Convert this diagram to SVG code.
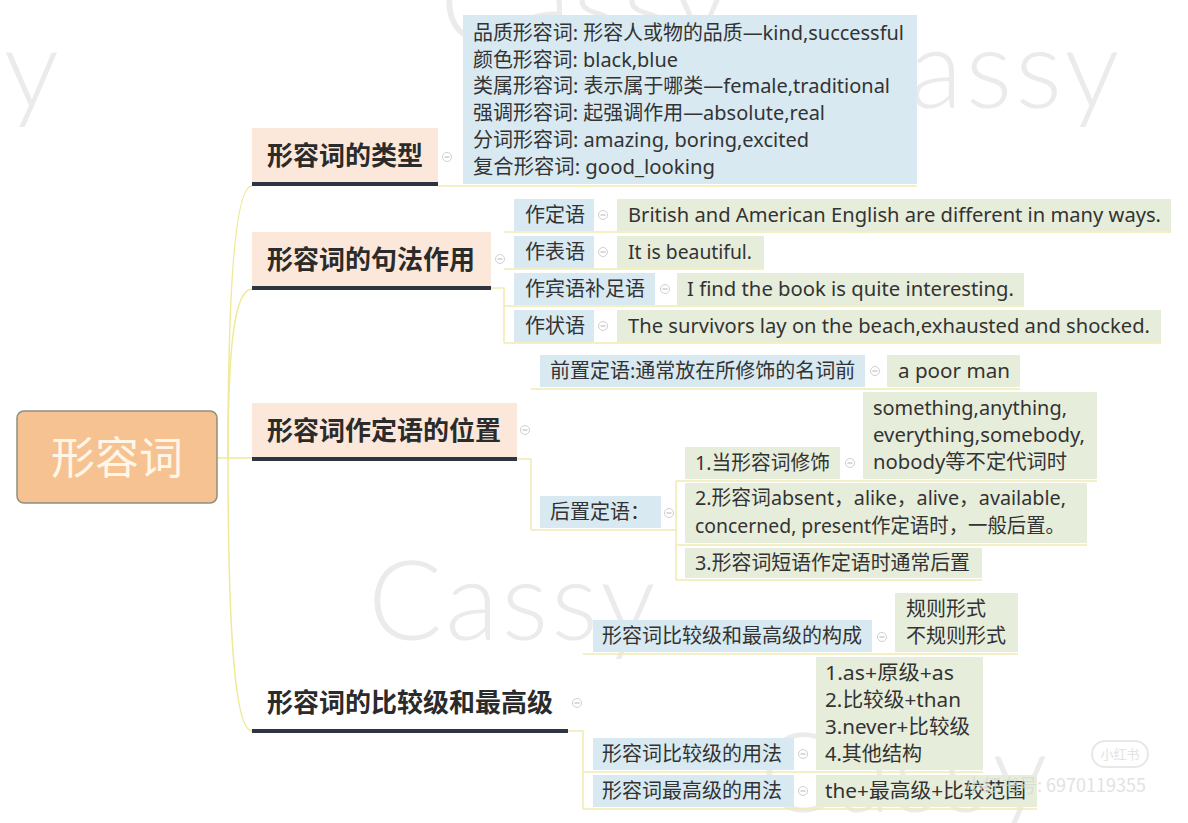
<svg xmlns="http://www.w3.org/2000/svg" width="1188" height="823" viewBox="0 0 1188 823">
<style>
  .wm{font-family:Lato,"Open Sans",sans-serif;font-weight:300;font-size:110px;fill:#ebebeb;letter-spacing:3px}
  .t{font-family:"Noto Sans","Noto Sans CJK SC",sans-serif;font-size:20px;fill:#333}
  .b1{font-family:"Noto Sans CJK SC",sans-serif;font-size:26px;font-weight:700;fill:#2b2b2b}
  .root{font-family:"Noto Sans CJK SC",sans-serif;font-size:44px;fill:#fff6e8}
  .l1{fill:#fbe8da}
  .ul{stroke:#2f3540;stroke-width:4}
  .blue{fill:#d8e9f1}
  .green{fill:#e7eddb}
  .cn{fill:none;stroke:#eeea96;stroke-width:1.5}
  .ln{fill:none;stroke:#f0ebb2;stroke-width:1.5}
</style>
<defs>
  <g id="mk"><circle cx="0" cy="0" r="4.5" fill="#fff" stroke="#cfcfcf" stroke-width="1"/><path d="M-2.5,0H2.5" stroke="#b5b5b5" stroke-width="1"/></g>
</defs>
<rect width="1188" height="823" fill="#fff"/>
<g id="watermarks">
  <text class="wm" x="440" y="42">Cassy</text>
  <text class="wm" x="832" y="108">Cassy</text>
  <text class="wm" x="62" y="108" text-anchor="end">Cassy</text>
  <text class="wm" x="368" y="640">Cassy</text>
  <text class="wm" x="760" y="812">Cassy</text>
</g>
<g id="connectors">
  <path class="cn" d="M217,458H252"/>
  <path class="cn" d="M228,458C228,300 234,186 252,186"/>
  <path class="cn" d="M228,458C228,350 234,289 252,289"/>
  <path class="cn" d="M228,458C228,620 234,731 252,731"/>
  <path class="ln" d="M438,186H917"/>
  <path class="ln" d="M491,288H504V343M504,232H1171M504,269H764M504,306H1024M504,343H1161"/>
  <path class="ln" d="M517,459H531V530M531,389H1020M531,530H676M676,481V580M676,481H1097M676,545H1087M676,580H982"/>
  <path class="ln" d="M568,731H583V809M583,654H1018M583,772H983M583,809H1037"/>
</g>
<g id="root">
  <rect x="17" y="411" width="200" height="92" rx="7" fill="#f7c291" stroke="#8e8e80" stroke-width="1.5"/>
  <text class="root" x="117" y="474" text-anchor="middle">形容词</text>
</g>
<g id="types">
  <rect class="l1" x="252" y="128" width="186" height="55"/>
  <path class="ul" d="M252,184H438"/>
  <text class="b1" x="267" y="165">形容词的类型</text>
  <use href="#mk" x="447" y="157"/>
</g>
<g id="types-list">
  <rect class="blue" x="463" y="15" width="454" height="169"/>
  <text class="t" x="473" y="39.5" textLength="431" lengthAdjust="spacingAndGlyphs">品质形容词: 形容人或物的品质—kind,successful</text>
  <text class="t" x="473" y="66.5" textLength="205" lengthAdjust="spacingAndGlyphs">颜色形容词: black,blue</text>
  <text class="t" x="473" y="93" textLength="417" lengthAdjust="spacingAndGlyphs">类属形容词: 表示属于哪类—female,traditional</text>
  <text class="t" x="473" y="120" textLength="352" lengthAdjust="spacingAndGlyphs">强调形容词: 起强调作用—absolute,real</text>
  <text class="t" x="473" y="147" textLength="336" lengthAdjust="spacingAndGlyphs">分词形容词: amazing, boring,excited</text>
  <text class="t" x="473" y="173.5" textLength="242" lengthAdjust="spacingAndGlyphs">复合形容词: good_looking</text>
</g>
<g id="syntax">
  <rect class="l1" x="252" y="232" width="239" height="55"/>
  <path class="ul" d="M252,288H491"/>
  <text class="b1" x="267" y="269">形容词的句法作用</text>
  <use href="#mk" x="500" y="259"/>
</g>
<g id="attr">
  <rect class="blue" x="514" y="199" width="80" height="32"/>
  <text class="t" x="525" y="222">作定语</text>
  <use href="#mk" x="603" y="215"/>
  <rect class="green" x="617" y="199" width="554" height="32"/>
  <text class="t" x="628" y="222" textLength="533" lengthAdjust="spacingAndGlyphs">British and American English are different in many ways.</text>
</g>
<g id="pred">
  <rect class="blue" x="514" y="236" width="80" height="32"/>
  <text class="t" x="525" y="259">作表语</text>
  <use href="#mk" x="603" y="252"/>
  <rect class="green" x="617" y="236" width="147" height="32"/>
  <text class="t" x="628" y="259" textLength="124" lengthAdjust="spacingAndGlyphs">It is beautiful.</text>
</g>
<g id="objcomp">
  <rect class="blue" x="514" y="273" width="141" height="32"/>
  <text class="t" x="525" y="296">作宾语补足语</text>
  <use href="#mk" x="665" y="289"/>
  <rect class="green" x="677" y="273" width="347" height="32"/>
  <text class="t" x="687" y="296" textLength="327" lengthAdjust="spacingAndGlyphs">I find the book is quite interesting.</text>
</g>
<g id="adv">
  <rect class="blue" x="514" y="310" width="80" height="32"/>
  <text class="t" x="525" y="333">作状语</text>
  <use href="#mk" x="603" y="326"/>
  <rect class="green" x="617" y="310" width="544" height="32"/>
  <text class="t" x="628" y="333" textLength="522" lengthAdjust="spacingAndGlyphs">The survivors lay on the beach,exhausted and shocked.</text>
</g>
<g id="position">
  <rect class="l1" x="252" y="403" width="265" height="55"/>
  <path class="ul" d="M252,459H517"/>
  <text class="b1" x="267" y="440">形容词作定语的位置</text>
  <use href="#mk" x="525" y="430"/>
</g>
<g id="pre">
  <rect class="blue" x="540" y="355" width="325" height="32"/>
  <text class="t" x="550" y="378">前置定语:通常放在所修饰的名词前</text>
  <use href="#mk" x="875" y="371"/>
  <rect class="green" x="887" y="355" width="133" height="32"/>
  <text class="t" x="898" y="378" textLength="112" lengthAdjust="spacingAndGlyphs">a poor man</text>
</g>
<g id="post">
  <rect class="blue" x="540" y="496" width="121" height="32"/>
  <text class="t" x="550" y="519">后置定语：</text>
  <use href="#mk" x="669" y="513"/>
</g>
<g id="post1">
  <rect class="green" x="685" y="447" width="155" height="32"/>
  <text class="t" x="695" y="470" textLength="135" lengthAdjust="spacingAndGlyphs">1.当形容词修饰</text>
  <use href="#mk" x="850" y="463"/>
  <rect class="green" x="863" y="392" width="234" height="87"/>
  <text class="t" x="873" y="415" textLength="194" lengthAdjust="spacingAndGlyphs">something,anything,</text>
  <text class="t" x="873" y="442" textLength="212" lengthAdjust="spacingAndGlyphs">everything,somebody,</text>
  <text class="t" x="873" y="469" textLength="194" lengthAdjust="spacingAndGlyphs">nobody等不定代词时</text>
</g>
<g id="post2">
  <rect class="green" x="685" y="483" width="402" height="60"/>
  <text class="t" x="695" y="505" textLength="371" lengthAdjust="spacingAndGlyphs">2.形容词absent，alike，alive，available,</text>
  <text class="t" x="695" y="533" textLength="370" lengthAdjust="spacingAndGlyphs">concerned, present作定语时，一般后置。</text>
</g>
<g id="post3">
  <rect class="green" x="685" y="548" width="297" height="30"/>
  <text class="t" x="695" y="570" textLength="275" lengthAdjust="spacingAndGlyphs">3.形容词短语作定语时通常后置</text>
</g>
<g id="degrees">
  <path class="ul" d="M252,731H568"/>
  <text class="b1" x="267" y="712">形容词的比较级和最高级</text>
  <use href="#mk" x="577" y="703"/>
</g>
<g id="formation">
  <rect class="blue" x="593" y="620" width="279" height="32"/>
  <text class="t" x="602" y="643">形容词比较级和最高级的构成</text>
  <use href="#mk" x="882" y="637"/>
  <rect class="green" x="895" y="593" width="123" height="59"/>
  <text class="t" x="906" y="616">规则形式</text>
  <text class="t" x="906" y="643">不规则形式</text>
</g>
<g id="comp-use">
  <rect class="blue" x="593" y="738" width="201" height="32"/>
  <text class="t" x="602" y="761">形容词比较级的用法</text>
  <use href="#mk" x="803" y="754"/>
  <rect class="green" x="816" y="657" width="167" height="113"/>
  <text class="t" x="825" y="680" textLength="129" lengthAdjust="spacingAndGlyphs">1.as+原级+as</text>
  <text class="t" x="825" y="707" textLength="136" lengthAdjust="spacingAndGlyphs">2.比较级+than</text>
  <text class="t" x="825" y="734" textLength="145" lengthAdjust="spacingAndGlyphs">3.never+比较级</text>
  <text class="t" x="825" y="761" textLength="97" lengthAdjust="spacingAndGlyphs">4.其他结构</text>
</g>
<g id="sup-use">
  <rect class="blue" x="593" y="775" width="201" height="32"/>
  <text class="t" x="602" y="798">形容词最高级的用法</text>
  <use href="#mk" x="803" y="791"/>
  <rect class="green" x="816" y="775" width="221" height="32"/>
  <text class="t" x="825" y="798" textLength="201" lengthAdjust="spacingAndGlyphs">the+最高级+比较范围</text>
</g>
<g id="watermark-top">
  <rect x="1092" y="741" width="56" height="26" rx="13" fill="none" stroke="#e2e2e2" stroke-width="2" opacity="0.8"/>
  <text x="1120" y="759" text-anchor="middle" style="font-family:'Noto Sans CJK SC',sans-serif;font-size:13px;fill:#dcdcdc" opacity="0.8">小红书</text>
  <text x="965" y="792" style="font-family:'Noto Sans CJK SC',sans-serif;font-size:18px;fill:#d6d6d6" opacity="0.7">小红书号: 6970119355</text>
</g>
</svg>
